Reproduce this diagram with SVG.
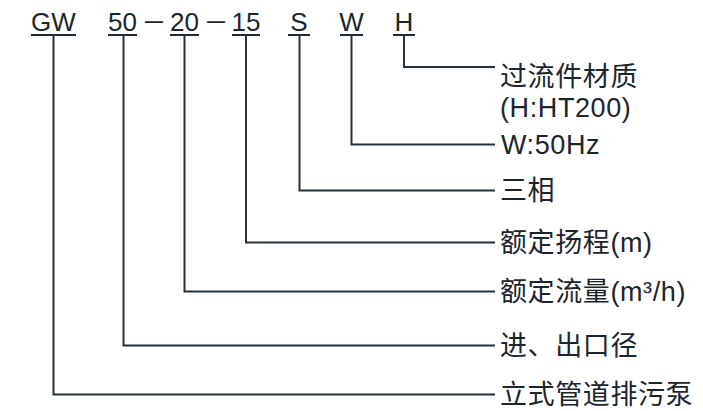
<svg xmlns="http://www.w3.org/2000/svg" width="703" height="411" viewBox="0 0 703 411">
<style>
text{font-family:"Liberation Sans","Noto Sans CJK SC",sans-serif;fill:#1c252c}
.code{font-size:26px;text-anchor:middle}
.lbl{font-size:27px;letter-spacing:0.6px}
.ul{stroke:#1e2a33;stroke-width:2;fill:none}
.conn{stroke:#26323b;stroke-width:2;fill:none}
</style>
<rect width="703" height="411" fill="#ffffff"/>
<g id="codes">
  <g id="c-gw"><text class="code" x="53.5" y="31">GW</text><line class="ul" x1="31" y1="35" x2="76" y2="35"/></g>
  <g id="c-50"><text class="code" x="122.5" y="31">50</text><line class="ul" x1="108" y1="35" x2="137" y2="35"/></g>
  <g id="c-d1"><text x="145" y="29" font-size="26" textLength="18" lengthAdjust="spacingAndGlyphs">—</text></g>
  <g id="c-20"><text class="code" x="184.5" y="31">20</text><line class="ul" x1="170" y1="35" x2="199" y2="35"/></g>
  <g id="c-d2"><text x="207" y="29" font-size="26" textLength="18" lengthAdjust="spacingAndGlyphs">—</text></g>
  <g id="c-15"><text class="code" x="246" y="31">15</text><line class="ul" x1="232" y1="35" x2="260" y2="35"/></g>
  <g id="c-s"><text class="code" x="299" y="31">S</text><line class="ul" x1="288" y1="35" x2="310" y2="35"/></g>
  <g id="c-w"><text class="code" x="351.5" y="31">W</text><line class="ul" x1="340" y1="35" x2="363" y2="35"/></g>
  <g id="c-h"><text class="code" x="404" y="31">H</text><line class="ul" x1="393" y1="35" x2="415" y2="35"/></g>
</g>
<g id="connectors">
  <path class="conn" d="M404 35V67H495"/>
  <path class="conn" d="M351.5 35V144.5H495"/>
  <path class="conn" d="M299.5 35V190.5H495"/>
  <path class="conn" d="M246 35V242.5H495"/>
  <path class="conn" d="M184.5 35V291.5H495"/>
  <path class="conn" d="M123.5 35V345.5H495"/>
  <path class="conn" d="M53.5 35V394.5H495"/>
</g>
<g id="labels">
  <g id="l-h"><text class="lbl" x="500" y="86">过流件材质</text><text class="lbl" x="500" y="117">(H:HT200)</text></g>
  <g id="l-w"><text class="lbl" x="501" y="154">W:50Hz</text></g>
  <g id="l-s"><text class="lbl" x="500" y="200">三相</text></g>
  <g id="l-15"><text class="lbl" x="500" y="252">额定扬程(m)</text></g>
  <g id="l-20"><text class="lbl" x="500" y="301">额定流量(m³/h)</text></g>
  <g id="l-50"><text class="lbl" x="500" y="355">进、出口径</text></g>
  <g id="l-gw"><text class="lbl" x="500" y="404">立式管道排污泵</text></g>
</g>
</svg>
